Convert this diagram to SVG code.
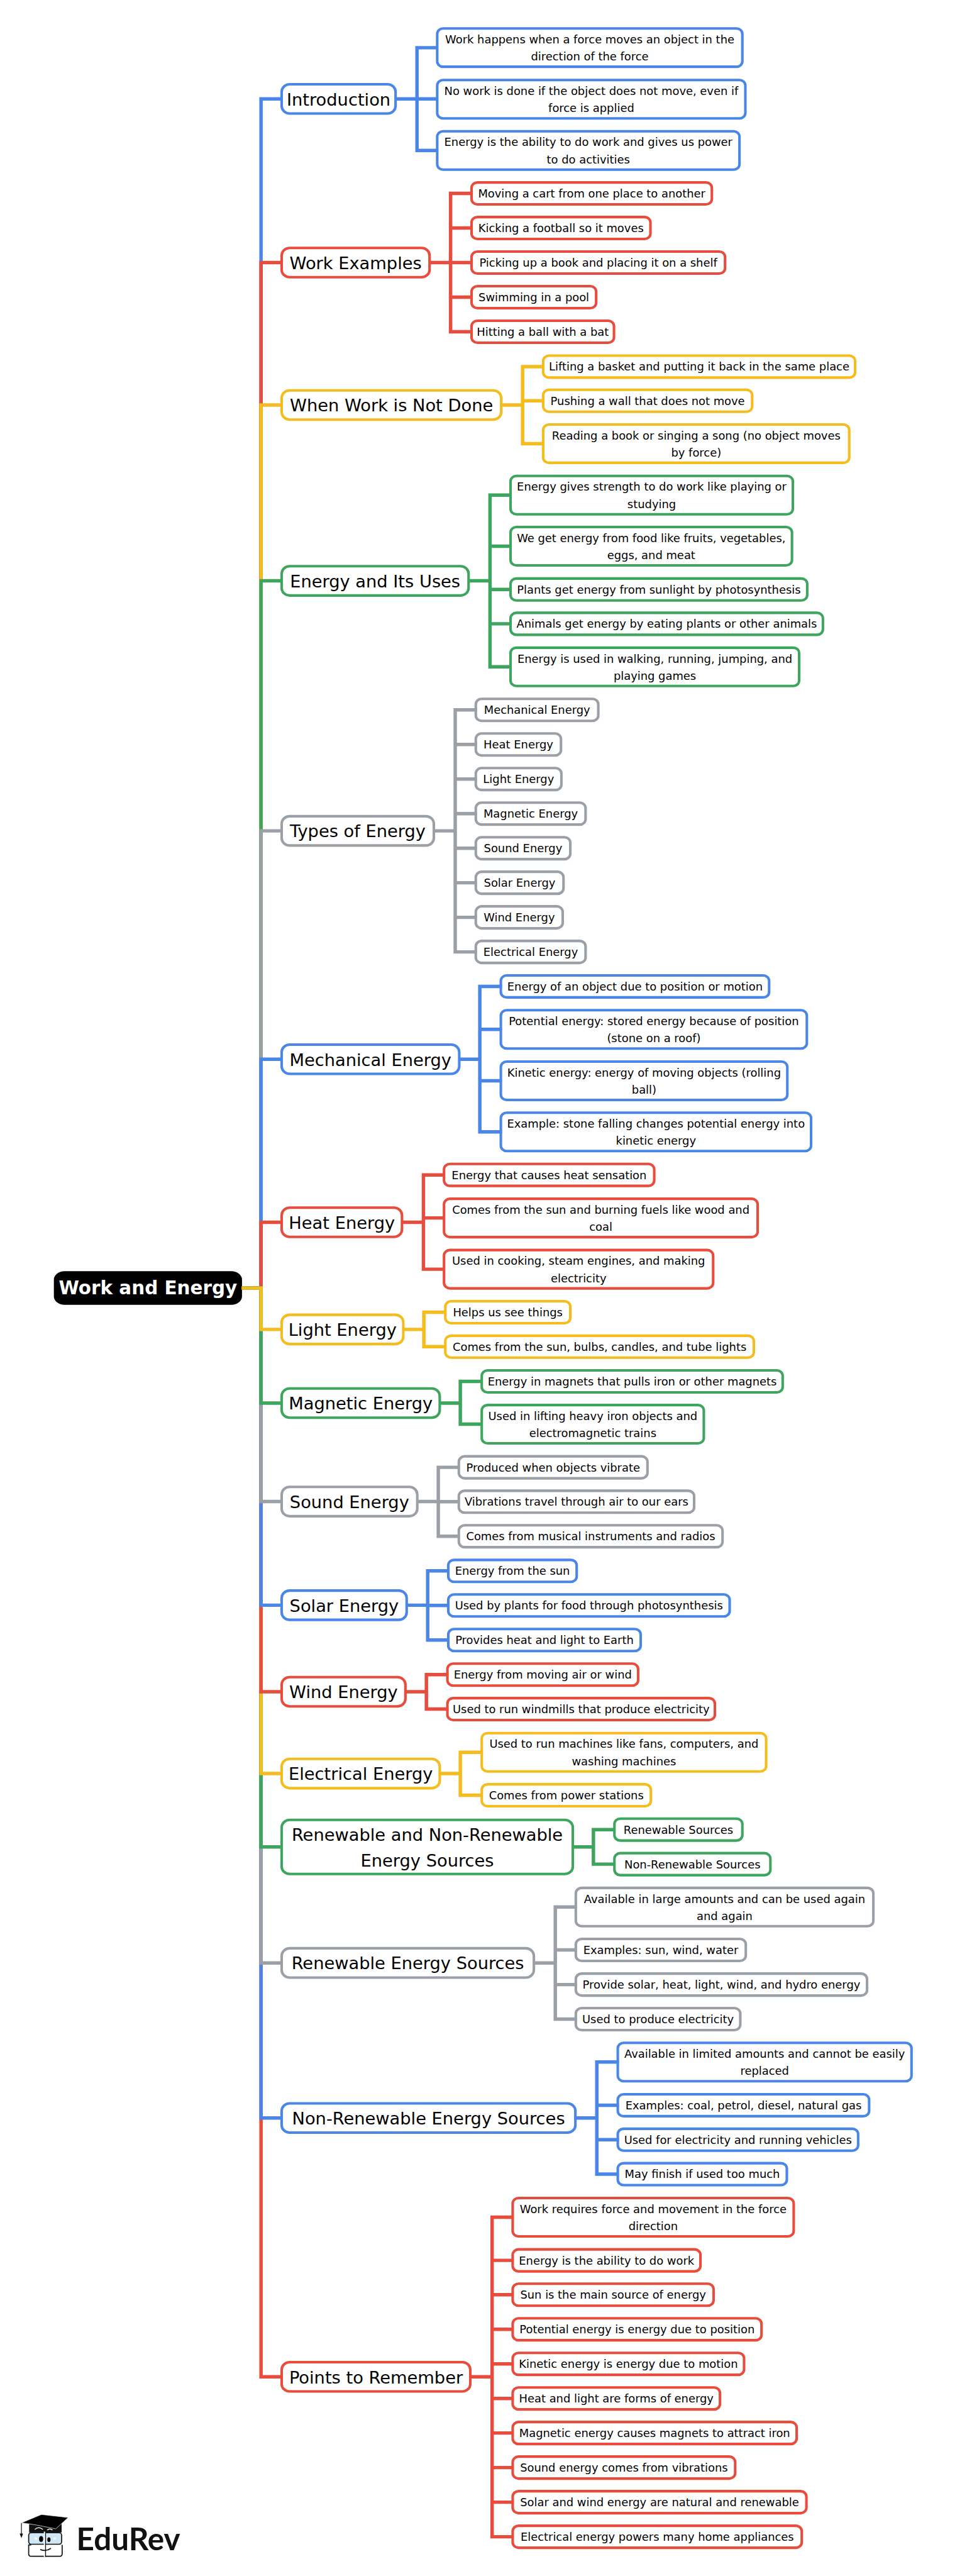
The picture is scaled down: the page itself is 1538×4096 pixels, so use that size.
<svg xmlns="http://www.w3.org/2000/svg" width="1538" height="4096" viewBox="0 0 1538 4096">
<style>
text{font-family:"DejaVu Sans",sans-serif;fill:#000;text-anchor:middle}
rect{fill:#fff;stroke-width:4.8}
.p rect{rx:15px;ry:14px}
.l rect{rx:11px;ry:10px}
.p text{font-size:32px}
.l text{font-size:21px}
.c path{fill:none;stroke-width:6.4}
.blue rect,.c .blue{stroke:#4a86e8}
.red rect,.c .red{stroke:#e74c3c}
.yellow rect,.c .yellow{stroke:#f4bc1c}
.green rect,.c .green{stroke:#3ea55e}
.gray rect,.c .gray{stroke:#9aa0a6}
</style>
<rect width="1538" height="4096" style="stroke:none"/>
<g transform="scale(0.8525)">
<g id="nodes">
<g id="root"><rect x="100.5" y="2371" width="351" height="62.8" rx="20" ry="16" style="fill:#000;stroke:none"/><text x="276" y="2414.5" style="font-size:34.5px;font-weight:700;fill:#fff">Work and Energy</text></g>

<g id="n1" class="p blue"><rect x="525.5" y="157.2" width="212.5" height="54.6"/><text x="631.75" y="196.5">Introduction</text></g>
<g id="n1-1" class="l blue"><rect x="815.7" y="53" width="569.3" height="71.5"/><text x="1100.35" y="80.75">Work happens when a force moves an object in the</text><text x="1100.35" y="112.75">direction of the force</text></g>
<g id="n1-2" class="l blue"><rect x="815.7" y="149.25" width="574.9" height="71.5"/><text x="1103.15" y="177">No work is done if the object does not move, even if</text><text x="1103.15" y="209">force is applied</text></g>
<g id="n1-3" class="l blue"><rect x="815.7" y="244.85" width="563.9" height="71.5"/><text x="1097.65" y="272.6">Energy is the ability to do work and gives us power</text><text x="1097.65" y="304.6">to do activities</text></g>

<g id="n2" class="p red"><rect x="525.5" y="462.5" width="275.9" height="54.6"/><text x="663.5" y="501.8">Work Examples</text></g>
<g id="n2-1" class="l red"><rect x="879.8" y="340.3" width="448.3" height="41"/><text x="1104" y="368.3">Moving a cart from one place to another</text></g>
<g id="n2-2" class="l red"><rect x="879.8" y="404.8" width="333.7" height="41"/><text x="1046.65" y="432.8">Kicking a football so it moves</text></g>
<g id="n2-3" class="l red"><rect x="879.8" y="469.3" width="472.9" height="41"/><text x="1116.25" y="497.3">Picking up a book and placing it on a shelf</text></g>
<g id="n2-4" class="l red"><rect x="879.8" y="533.8" width="232.4" height="41"/><text x="996" y="561.8">Swimming in a pool</text></g>
<g id="n2-5" class="l red"><rect x="879.8" y="598.3" width="265.7" height="41"/><text x="1012.65" y="626.3">Hitting a ball with a bat</text></g>

<g id="n3" class="p yellow"><rect x="525.5" y="728.1" width="409.6" height="54.6"/><text x="730.3" y="767.4">When Work is Not Done</text></g>
<g id="n3-1" class="l yellow"><rect x="1013.4" y="663.3" width="582" height="41"/><text x="1304.4" y="691.3">Lifting a basket and putting it back in the same place</text></g>
<g id="n3-2" class="l yellow"><rect x="1013.4" y="727" width="389.9" height="41"/><text x="1208.35" y="755">Pushing a wall that does not move</text></g>
<g id="n3-3" class="l yellow"><rect x="1013.4" y="791.75" width="571" height="71.5"/><text x="1298.9" y="819.5">Reading a book or singing a song (no object moves</text><text x="1298.9" y="851.5">by force)</text></g>

<g id="n4" class="p green"><rect x="525.5" y="1056.1" width="348.7" height="54.6"/><text x="699.9" y="1095.4">Energy and Its Uses</text></g>
<g id="n4-1" class="l green"><rect x="952.5" y="887.75" width="526.7" height="71.5"/><text x="1215.85" y="915.5">Energy gives strength to do work like playing or</text><text x="1215.85" y="947.5">studying</text></g>
<g id="n4-2" class="l green"><rect x="952.5" y="983.05" width="525.1" height="71.5"/><text x="1215" y="1010.8">We get energy from food like fruits, vegetables,</text><text x="1215" y="1042.8">eggs, and meat</text></g>
<g id="n4-3" class="l green"><rect x="952.5" y="1079" width="553.5" height="41"/><text x="1229.25" y="1107">Plants get energy from sunlight by photosynthesis</text></g>
<g id="n4-4" class="l green"><rect x="952.5" y="1143" width="582.8" height="41"/><text x="1243.9" y="1171">Animals get energy by eating plants or other animals</text></g>
<g id="n4-5" class="l green"><rect x="952.5" y="1208.05" width="538.5" height="71.5"/><text x="1221.75" y="1235.8">Energy is used in walking, running, jumping, and</text><text x="1221.75" y="1267.8">playing games</text></g>

<g id="n5" class="p gray"><rect x="525.5" y="1522.4" width="283.9" height="54.6"/><text x="667.5" y="1561.7">Types of Energy</text></g>
<g id="n5-1" class="l gray"><rect x="887.7" y="1303.5" width="228.5" height="41"/><text x="1002" y="1331.5">Mechanical Energy</text></g>
<g id="n5-2" class="l gray"><rect x="887.7" y="1368" width="158.9" height="41"/><text x="967.15" y="1396">Heat Energy</text></g>
<g id="n5-3" class="l gray"><rect x="887.7" y="1432.5" width="159.7" height="41"/><text x="967.55" y="1460.5">Light Energy</text></g>
<g id="n5-4" class="l gray"><rect x="887.7" y="1497" width="204.8" height="41"/><text x="990.1" y="1525">Magnetic Energy</text></g>
<g id="n5-5" class="l gray"><rect x="887.7" y="1561.5" width="176.3" height="41"/><text x="975.85" y="1589.5">Sound Energy</text></g>
<g id="n5-6" class="l gray"><rect x="887.7" y="1626" width="163.6" height="41"/><text x="969.5" y="1654">Solar Energy</text></g>
<g id="n5-7" class="l gray"><rect x="887.7" y="1690.5" width="162.1" height="41"/><text x="968.75" y="1718.5">Wind Energy</text></g>
<g id="n5-8" class="l gray"><rect x="887.7" y="1755" width="204.8" height="41"/><text x="990.1" y="1783">Electrical Energy</text></g>

<g id="n6" class="p blue"><rect x="525.5" y="1948.4" width="331.3" height="54.6"/><text x="691.2" y="1987.7">Mechanical Energy</text></g>
<g id="n6-1" class="l blue"><rect x="934.4" y="1819.3" width="500.5" height="41"/><text x="1184.65" y="1847.3">Energy of an object due to position or motion</text></g>
<g id="n6-2" class="l blue"><rect x="934.4" y="1884.25" width="570.9" height="71.5"/><text x="1219.85" y="1912">Potential energy: stored energy because of position</text><text x="1219.85" y="1944">(stone on a roof)</text></g>
<g id="n6-3" class="l blue"><rect x="934.4" y="1980.05" width="534.5" height="71.5"/><text x="1201.65" y="2007.8">Kinetic energy: energy of moving objects (rolling</text><text x="1201.65" y="2039.8">ball)</text></g>
<g id="n6-4" class="l blue"><rect x="934.4" y="2075.45" width="578.8" height="71.5"/><text x="1223.8" y="2103.2">Example: stone falling changes potential energy into</text><text x="1223.8" y="2135.2">kinetic energy</text></g>

<g id="n7" class="p red"><rect x="525.5" y="2252.5" width="224.5" height="54.6"/><text x="637.8" y="2291.8">Heat Energy</text></g>
<g id="n7-1" class="l red"><rect x="828.4" y="2170.9" width="392.2" height="41"/><text x="1024.5" y="2198.9">Energy that causes heat sensation</text></g>
<g id="n7-2" class="l red"><rect x="828.4" y="2235.95" width="585.1" height="71.5"/><text x="1120.95" y="2263.7">Comes from the sun and burning fuels like wood and</text><text x="1120.95" y="2295.7">coal</text></g>
<g id="n7-3" class="l red"><rect x="828.4" y="2331.55" width="502.1" height="71.5"/><text x="1079.45" y="2359.3">Used in cooking, steam engines, and making</text><text x="1079.45" y="2391.3">electricity</text></g>

<g id="n8" class="p yellow"><rect x="525.5" y="2452.3" width="226.9" height="54.6"/><text x="639" y="2491.6">Light Energy</text></g>
<g id="n8-1" class="l yellow"><rect x="830.8" y="2427" width="233.2" height="41"/><text x="947.4" y="2455">Helps us see things</text></g>
<g id="n8-2" class="l yellow"><rect x="830.8" y="2491.3" width="575.6" height="41"/><text x="1118.6" y="2519.3">Comes from the sun, bulbs, candles, and tube lights</text></g>

<g id="n9" class="p green"><rect x="525.5" y="2589.7" width="294.9" height="54.6"/><text x="673" y="2629">Magnetic Energy</text></g>
<g id="n9-1" class="l green"><rect x="898.8" y="2556" width="561.4" height="41"/><text x="1179.5" y="2584">Energy in magnets that pulls iron or other magnets</text></g>
<g id="n9-2" class="l green"><rect x="898.8" y="2620.65" width="414.3" height="71.5"/><text x="1105.95" y="2648.4">Used in lifting heavy iron objects and</text><text x="1105.95" y="2680.4">electromagnetic trains</text></g>

<g id="n10" class="p gray"><rect x="525.5" y="2773.4" width="253" height="54.6"/><text x="652" y="2812.7">Sound Energy</text></g>
<g id="n10-1" class="l gray"><rect x="856" y="2716.3" width="352" height="41"/><text x="1032" y="2744.3">Produced when objects vibrate</text></g>
<g id="n10-2" class="l gray"><rect x="856" y="2780.5" width="439" height="41"/><text x="1075.5" y="2808.5">Vibrations travel through air to our ears</text></g>
<g id="n10-3" class="l gray"><rect x="856" y="2844.8" width="492" height="41"/><text x="1102" y="2872.8">Comes from musical instruments and radios</text></g>

<g id="n11" class="p blue"><rect x="525.5" y="2966.7" width="233.2" height="54.6"/><text x="642.1" y="3006">Solar Energy</text></g>
<g id="n11-1" class="l blue"><rect x="836.3" y="2909.5" width="239.6" height="41"/><text x="956.1" y="2937.5">Energy from the sun</text></g>
<g id="n11-2" class="l blue"><rect x="836.3" y="2973.9" width="525" height="41"/><text x="1098.8" y="3001.9">Used by plants for food through photosynthesis</text></g>
<g id="n11-3" class="l blue"><rect x="836.3" y="3038.5" width="359" height="41"/><text x="1015.8" y="3066.5">Provides heat and light to Earth</text></g>

<g id="n12" class="p red"><rect x="525.5" y="3128.1" width="230.9" height="54.6"/><text x="641" y="3167.4">Wind Energy</text></g>
<g id="n12-1" class="l red"><rect x="834.7" y="3103" width="355.8" height="41"/><text x="1012.6" y="3131">Energy from moving air or wind</text></g>
<g id="n12-2" class="l red"><rect x="834.7" y="3167.3" width="499" height="41"/><text x="1084.2" y="3195.3">Used to run windmills that produce electricity</text></g>

<g id="n13" class="p yellow"><rect x="525.5" y="3280.7" width="294.9" height="54.6"/><text x="673" y="3320">Electrical Energy</text></g>
<g id="n13-1" class="l yellow"><rect x="898.8" y="3232.55" width="530.6" height="71.5"/><text x="1164.1" y="3260.3">Used to run machines like fans, computers, and</text><text x="1164.1" y="3292.3">washing machines</text></g>
<g id="n13-2" class="l yellow"><rect x="898.8" y="3328" width="315.5" height="41"/><text x="1056.55" y="3356">Comes from power stations</text></g>

<g id="n14" class="p green"><rect x="525.5" y="3394.4" width="543.2" height="101"/><text x="797.1" y="3433">Renewable and Non-Renewable</text><text x="797.1" y="3481">Energy Sources</text></g>
<g id="n14-1" class="l green"><rect x="1146.3" y="3392" width="238.7" height="41"/><text x="1265.65" y="3420">Renewable Sources</text></g>
<g id="n14-2" class="l green"><rect x="1146.3" y="3456.5" width="291" height="41"/><text x="1291.8" y="3484.5">Non-Renewable Sources</text></g>

<g id="n15" class="p gray"><rect x="525.5" y="3633.9" width="470.5" height="54.6"/><text x="760.8" y="3673.2">Renewable Energy Sources</text></g>
<g id="n15-1" class="l gray"><rect x="1074.3" y="3521.25" width="555.1" height="71.5"/><text x="1351.85" y="3549">Available in large amounts and can be used again</text><text x="1351.85" y="3581">and again</text></g>
<g id="n15-2" class="l gray"><rect x="1074.3" y="3616.5" width="317.1" height="41"/><text x="1232.85" y="3644.5">Examples: sun, wind, water</text></g>
<g id="n15-3" class="l gray"><rect x="1074.3" y="3681.1" width="543.3" height="41"/><text x="1345.95" y="3709.1">Provide solar, heat, light, wind, and hydro energy</text></g>
<g id="n15-4" class="l gray"><rect x="1074.3" y="3745.5" width="306.8" height="41"/><text x="1227.7" y="3773.5">Used to produce electricity</text></g>

<g id="n16" class="p blue"><rect x="525.5" y="3923.2" width="548" height="54.6"/><text x="799.5" y="3962.5">Non-Renewable Energy Sources</text></g>
<g id="n16-1" class="l blue"><rect x="1152.6" y="3810.25" width="548" height="71.5"/><text x="1426.6" y="3838">Available in limited amounts and cannot be easily</text><text x="1426.6" y="3870">replaced</text></g>
<g id="n16-2" class="l blue"><rect x="1152.6" y="3906.1" width="468.9" height="41"/><text x="1387.05" y="3934.1">Examples: coal, petrol, diesel, natural gas</text></g>
<g id="n16-3" class="l blue"><rect x="1152.6" y="3970.5" width="448.4" height="41"/><text x="1376.8" y="3998.5">Used for electricity and running vehicles</text></g>
<g id="n16-4" class="l blue"><rect x="1152.6" y="4034.7" width="315.4" height="41"/><text x="1310.3" y="4062.7">May finish if used too much</text></g>

<g id="n17" class="p red"><rect x="525.5" y="4405.9" width="351.9" height="54.6"/><text x="701.5" y="4445.2">Points to Remember</text></g>
<g id="n17-1" class="l red"><rect x="956.5" y="4099.75" width="524.3" height="71.5"/><text x="1218.65" y="4127.5">Work requires force and movement in the force</text><text x="1218.65" y="4159.5">direction</text></g>
<g id="n17-2" class="l red"><rect x="956.5" y="4195.5" width="350.3" height="41"/><text x="1131.65" y="4223.5">Energy is the ability to do work</text></g>
<g id="n17-3" class="l red"><rect x="956.5" y="4259.5" width="374.8" height="41"/><text x="1143.9" y="4287.5">Sun is the main source of energy</text></g>
<g id="n17-4" class="l red"><rect x="956.5" y="4324" width="464.2" height="41"/><text x="1188.6" y="4352">Potential energy is energy due to position</text></g>
<g id="n17-5" class="l red"><rect x="956.5" y="4388.5" width="431.7" height="41"/><text x="1172.35" y="4416.5">Kinetic energy is energy due to motion</text></g>
<g id="n17-6" class="l red"><rect x="956.5" y="4453" width="386.7" height="41"/><text x="1149.85" y="4481">Heat and light are forms of energy</text></g>
<g id="n17-7" class="l red"><rect x="956.5" y="4517.5" width="529.8" height="41"/><text x="1221.4" y="4545.5">Magnetic energy causes magnets to attract iron</text></g>
<g id="n17-8" class="l red"><rect x="956.5" y="4582" width="415.1" height="41"/><text x="1164.05" y="4610">Sound energy comes from vibrations</text></g>
<g id="n17-9" class="l red"><rect x="956.5" y="4646.5" width="548" height="41"/><text x="1230.5" y="4674.5">Solar and wind energy are natural and renewable</text></g>
<g id="n17-10" class="l red"><rect x="956.5" y="4711" width="539.3" height="41"/><text x="1226.15" y="4739">Electrical energy powers many home appliances</text></g>
</g>

<g id="connectors" class="c">
<path class="blue" d="M451 2402.5H487V184.5H527"/>
<path class="red" d="M451 2402.5H487V489.8H527"/>
<path class="yellow" d="M451 2402.5H487V755.4H527"/>
<path class="green" d="M451 2402.5H487V1083.4H527"/>
<path class="gray" d="M451 2402.5H487V1549.7H527"/>
<path class="blue" d="M451 2402.5H487V1975.7H527"/>
<path class="red" d="M451 2402.5H487V2279.8H527"/>
<path class="red" d="M451 2402.5H487V4433.2H527"/>
<path class="blue" d="M451 2402.5H487V3950.5H527"/>
<path class="gray" d="M451 2402.5H487V3661.2H527"/>
<path class="green" d="M451 2402.5H487V3444.9H527"/>
<path class="yellow" d="M451 2402.5H487V3308H527"/>
<path class="red" d="M451 2402.5H487V3155.4H527"/>
<path class="blue" d="M451 2402.5H487V2994H527"/>
<path class="gray" d="M451 2402.5H487V2800.7H527"/>
<path class="green" d="M451 2402.5H487V2617H527"/>
<path class="yellow" d="M451 2402.5H487V2479.6H527"/>

<path class="blue" d="M737 184.5H778V89H817.7M778 184.5H817.7M778 184.5V280.6H817.7"/>
<path class="red" d="M800 489.8H840.6V360.8H881.8M840.6 425.3H881.8M800 489.8H881.8M840.6 554.3H881.8M840.6 489.8V618.8H881.8"/>
<path class="yellow" d="M934 755.4H975V683.8H1015.4M975 747.5H1015.4M975 755.4V827.5H1015.4"/>
<path class="green" d="M873 1083.4H914.2V923.5H954.5M914.2 1018.8H954.5M914.2 1099.5H954.5M914.2 1163.5H954.5M914.2 1083.4V1243.8H954.5"/>
<path class="gray" d="M808 1549.7H849.3V1324H889.7M849.3 1388.5H889.7M849.3 1453H889.7M849.3 1517.5H889.7M849.3 1582H889.7M849.3 1646.5H889.7M849.3 1711H889.7M849.3 1549.7V1775.5H889.7"/>
<path class="blue" d="M856 1975.7H895.2V1839.8H936.4M895.2 1920H936.4M895.2 2015.8H936.4M895.2 1975.7V2111.2H936.4"/>
<path class="red" d="M749 2279.8H790V2191.4H830.4M790 2271.7H830.4M790 2279.8V2367.3H830.4"/>
<path class="yellow" d="M751 2479.6H790.8V2447.5H832.8M790.8 2479.6V2511.8H832.8"/>
<path class="green" d="M819 2617H858.8V2576.5H900.8M858.8 2617V2656.4H900.8"/>
<path class="gray" d="M777 2800.7H817.7V2736.8H858M817.7 2801H858M817.7 2800.7V2865.3H858"/>
<path class="blue" d="M757 2994H797.9V2930H838.3M797.9 2994.4H838.3M797.9 2994V3059H838.3"/>
<path class="red" d="M755 3155.4H795.5V3123.5H836.7M795.5 3155.4V3187.8H836.7"/>
<path class="yellow" d="M819 3308H858.8V3268.3H900.8M858.8 3308V3348.5H900.8"/>
<path class="green" d="M1067 3444.9H1107.1V3412.5H1148.3M1107.1 3444.9V3477H1148.3"/>
<path class="gray" d="M995 3661.2H1036V3557H1076.3M1036 3637H1076.3M1036 3701.6H1076.3M1036 3661.2V3766H1076.3"/>
<path class="blue" d="M1072 3950.5H1113.5V3846H1154.6M1113.5 3926.6H1154.6M1113.5 3991H1154.6M1113.5 3950.5V4055.2H1154.6"/>
<path class="red" d="M876 4433.2H918.1V4135.5H958.5M918.1 4216H958.5M918.1 4280H958.5M918.1 4344.5H958.5M918.1 4409H958.5M918.1 4473.5H958.5M918.1 4538H958.5M918.1 4602.5H958.5M918.1 4667H958.5M918.1 4433.2V4731.5H958.5"/>
</g>

<g id="logo">
<path d="M54.3 4708L115 4706V4723.5H54.3Z" style="fill:#111"/>
<path d="M40 4705.5L77.3 4690L127.3 4695.7L104 4716.7L70 4710L53.3 4707.3Z" style="fill:#000;stroke:#fff;stroke-width:.8"/>
<path d="M65 4718Q72 4711 80 4718M88 4719Q93 4715 98 4719" style="fill:none;stroke:#fff;stroke-width:1.5"/>
<path d="M40 4706V4726" style="stroke:#111;stroke-width:1.4"/>
<path d="M36.7 4725.5H43L40 4734Z" style="fill:#111"/>
<rect x="53.5" y="4724" width="61.5" height="21.5" rx="5" style="fill:#cfe7f7;stroke:#111;stroke-width:2"/>
<path d="M58 4746.7H53.5V4763Q53.5 4768 58 4768H111Q116 4768 116 4763V4746.7" style="fill:#fff;stroke:#111;stroke-width:2"/>
<path d="M83 4722V4769" style="stroke:#fff;stroke-width:2.5"/>
<path d="M85 4722V4769" style="stroke:#111;stroke-width:1.6"/>
<ellipse cx="76.7" cy="4735.7" rx="3.8" ry="5.4" style="fill:#000"/>
<ellipse cx="91.3" cy="4737" rx="3" ry="4.4" style="fill:#000"/>
<rect x="65" y="4733" width="4" height="4" style="fill:#fff;stroke:none"/>
<rect x="100" y="4733" width="4" height="4" style="fill:#fff;stroke:none"/>
<path d="M75 4755Q85 4760 95 4753" style="fill:none;stroke:#111;stroke-width:2"/>
<text x="239.5" y="4756.7" style="font-family:Lato,sans-serif;font-size:58px;font-weight:700;fill:#111">EduRev</text>
</g>
</g>
</svg>
